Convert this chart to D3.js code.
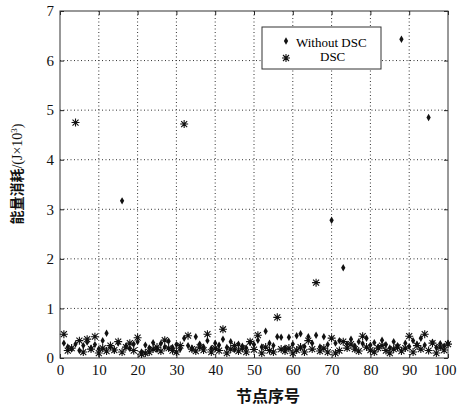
<!DOCTYPE html>
<html>
<head>
<meta charset="utf-8">
<script src="https://cdn.jsdelivr.net/npm/d3@7/dist/d3.min.js"></script>
<style>
  html, body { margin: 0; padding: 0; background: #fff; }
  svg { display: block; font-family: "Liberation Serif", "Noto Sans CJK SC", serif; }
</style>
</head>
<body>
<svg id="chart" width="457" height="407"></svg>
<script>
// ---- data ----
const nodes = d3.range(1, 101);
const seriesNames = ["Without DSC", "DSC"];
const withoutDSC = [
  0.30,0.22,0.18,0.28,0.15,0.25,0.32,0.20,0.27,0.18,
  0.35,0.50,0.22,0.16,0.30,3.17,0.24,0.19,0.28,0.33,
  0.12,0.26,0.20,0.31,0.17,0.29,0.22,0.34,0.21,0.27,
  0.18,0.40,0.25,0.20,0.43,0.28,0.22,0.35,0.19,0.30,
  0.26,0.38,0.21,0.33,0.17,0.28,0.24,0.20,0.31,0.27,
  0.36,0.22,0.54,0.30,0.25,0.43,0.42,0.20,0.42,0.28,
  0.45,0.49,0.23,0.43,0.30,0.46,0.22,0.43,0.27,2.78,
  0.30,0.35,1.82,0.28,0.38,0.24,0.33,0.29,0.40,0.26,
  0.31,0.22,0.36,0.27,0.20,0.33,0.25,6.43,0.30,0.23,
  0.35,0.28,0.40,0.26,4.85,0.32,0.21,0.29,0.24,0.30
];
const withDSC = [
  0.48,0.15,0.20,4.75,0.35,0.12,0.38,0.18,0.43,0.10,
  0.20,0.14,0.25,0.16,0.33,0.12,0.22,0.30,0.15,0.41,
  0.08,0.10,0.12,0.18,0.22,0.14,0.36,0.20,0.15,0.12,
  0.25,4.72,0.45,0.18,0.14,0.22,0.16,0.48,0.12,0.20,
  0.15,0.58,0.10,0.18,0.25,0.14,0.20,0.12,0.33,0.17,
  0.46,0.10,0.22,0.15,0.12,0.82,0.18,0.14,0.20,0.10,
  0.16,0.22,0.12,0.35,0.18,1.52,0.14,0.20,0.12,0.40,
  0.10,0.15,0.33,0.20,0.28,0.18,0.14,0.44,0.22,0.16,
  0.12,0.20,0.25,0.15,0.10,0.18,0.22,0.14,0.20,0.44,
  0.12,0.25,0.18,0.48,0.15,0.30,0.10,0.22,0.16,0.28
];
const xTicks = [0,10,20,30,40,50,60,70,80,90,100];
const yTicks = [0,1,2,3,4,5,6,7];
const xLabel = "节点序号";
const yLabelCN = "能量消耗";

// ---- layout ----
const svg = d3.select("#chart");
const L = 60, R = 448, T = 11, B = 358;
const x = d3.scaleLinear().domain([0, 100]).range([L, R]);
const y = d3.scaleLinear().domain([0, 7]).range([B, T]);

// grid
const grid = svg.append("g").attr("stroke", "#333").attr("stroke-width", 1)
  .attr("stroke-dasharray", "1,2.5").attr("fill", "none");
xTicks.slice(1, -1).forEach(t => {
  grid.append("line").attr("x1", x(t)).attr("x2", x(t)).attr("y1", T).attr("y2", B);
});
yTicks.slice(1, -1).forEach(t => {
  grid.append("line").attr("x1", L).attr("x2", R).attr("y1", y(t)).attr("y2", y(t));
});

// axes
const fs = 15;
const gx = svg.append("g").attr("transform", `translate(0,${B})`)
  .call(d3.axisBottom(x).tickValues(xTicks).tickSize(-4).tickPadding(6).tickFormat(d3.format("d")));
const gxt = svg.append("g").attr("transform", `translate(0,${T})`)
  .call(d3.axisTop(x).tickValues(xTicks).tickSize(-4).tickFormat(""));
const gy = svg.append("g").attr("transform", `translate(${L},0)`)
  .call(d3.axisLeft(y).tickValues(yTicks).tickSize(-4).tickPadding(6).tickFormat(d3.format("d")));
const gyr = svg.append("g").attr("transform", `translate(${R},0)`)
  .call(d3.axisRight(y).tickValues(yTicks).tickSize(-4).tickFormat(""));
[gx, gxt, gy, gyr].forEach(g => {
  g.select(".domain").remove();
  g.selectAll(".tick line").attr("stroke", "#222");
  g.selectAll("text").attr("font-size", fs).attr("fill", "#111")
    .attr("font-family", "Liberation Serif, serif");
});
// keep "100" inside the page
gx.selectAll(".tick text").filter(d => d === 100).attr("text-anchor", "end").attr("x", 8);

// frame
svg.append("rect").attr("x", L).attr("y", T).attr("width", R - L).attr("height", B - T)
  .attr("fill", "none").attr("stroke", "#333").attr("stroke-width", 1);

// markers
function star(g, cx, cy) {
  const a = 4, b = 3;
  g.append("path")
    .attr("d", `M${cx - a},${cy}H${cx + a}M${cx},${cy - a}V${cy + a}M${cx - b},${cy - b}L${cx + b},${cy + b}M${cx - b},${cy + b}L${cx + b},${cy - b}`)
    .attr("stroke", "#111").attr("stroke-width", 1.1).attr("fill", "none");
}
const dotSym = d3.symbol().type(d3.symbolDiamond).size(16);

const pts = svg.append("g");
nodes.forEach((n, i) => star(pts, x(n), y(withDSC[i])));
pts.selectAll("path.dot").data(nodes).join("path").attr("class", "dot")
  .attr("d", dotSym)
  .attr("transform", (n, i) => `translate(${x(n)},${y(withoutDSC[i])})`)
  .attr("fill", "#111");

// legend
const lg = svg.append("g");
lg.append("rect").attr("x", 262).attr("y", 27).attr("width", 119).attr("height", 42)
  .attr("fill", "#fff").attr("stroke", "#333");
lg.append("path").attr("d", dotSym).attr("transform", "translate(286,41)").attr("fill", "#111");
lg.append("text").attr("x", 296).attr("y", 46.5).attr("font-size", 13).text(seriesNames[0]);
star(lg, 286, 58);
lg.append("text").attr("x", 320).attr("y", 61).attr("font-size", 13).text(seriesNames[1]);

// axis titles
svg.append("text").attr("x", 268).attr("y", 402).attr("text-anchor", "middle")
  .attr("font-size", 16).attr("font-weight", "bold").attr("font-family", "Noto Sans CJK SC").attr("fill", "#111")
  .text(xLabel);
const yt = svg.append("text").attr("transform", "translate(22,174) rotate(-90)")
  .attr("text-anchor", "middle").attr("font-size", 14).attr("fill", "#111");
yt.append("tspan").attr("font-family", "Noto Sans CJK SC").attr("font-weight", "bold").text(yLabelCN);
yt.append("tspan").attr("font-family", "Liberation Serif").text("/(J×10");
yt.append("tspan").attr("font-family", "Liberation Serif").attr("font-size", 9).attr("dy", -5).text("3");
yt.append("tspan").attr("font-family", "Liberation Serif").attr("dy", 5).text(")");
</script>
</body>
</html>
